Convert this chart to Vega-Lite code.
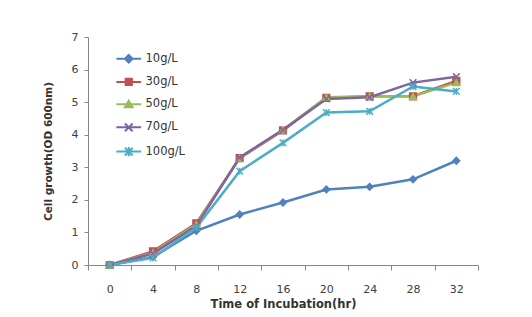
{
  "$schema": "https://vega.github.io/schema/vega-lite/v6.json",
  "autosize": {"type": "none"},
  "width": 390,
  "height": 228,
  "padding": {"left": 88, "top": 37, "right": 54, "bottom": 52},
  "background": "white",
  "config": {"view": {"stroke": null}, "font": "DejaVu Sans",
    "legend": {"orient": "none", "legendX": 35, "legendY": 16, "title": null, "labelFontSize": 11.5, "labelColor": "#333333", "rowPadding": 7.2, "symbolSize": 60, "symbolStrokeWidth": 2, "labelOffset": 11}},
  "data": {"values": [
    {"t": 0, "s": "10g/L", "v": 0}, {"t": 4, "s": "10g/L", "v": 0.25}, {"t": 8, "s": "10g/L", "v": 1.05}, {"t": 12, "s": "10g/L", "v": 1.55}, {"t": 16, "s": "10g/L", "v": 1.92}, {"t": 20, "s": "10g/L", "v": 2.32}, {"t": 24, "s": "10g/L", "v": 2.4}, {"t": 28, "s": "10g/L", "v": 2.63}, {"t": 32, "s": "10g/L", "v": 3.2},
    {"t": 0, "s": "30g/L", "v": 0}, {"t": 4, "s": "30g/L", "v": 0.42}, {"t": 8, "s": "30g/L", "v": 1.28}, {"t": 12, "s": "30g/L", "v": 3.28}, {"t": 16, "s": "30g/L", "v": 4.13}, {"t": 20, "s": "30g/L", "v": 5.13}, {"t": 24, "s": "30g/L", "v": 5.18}, {"t": 28, "s": "30g/L", "v": 5.18}, {"t": 32, "s": "30g/L", "v": 5.65},
    {"t": 0, "s": "50g/L", "v": 0}, {"t": 4, "s": "50g/L", "v": 0.38}, {"t": 8, "s": "50g/L", "v": 1.25}, {"t": 12, "s": "50g/L", "v": 3.28}, {"t": 16, "s": "50g/L", "v": 4.15}, {"t": 20, "s": "50g/L", "v": 5.15}, {"t": 24, "s": "50g/L", "v": 5.18}, {"t": 28, "s": "50g/L", "v": 5.18}, {"t": 32, "s": "50g/L", "v": 5.6},
    {"t": 0, "s": "70g/L", "v": 0}, {"t": 4, "s": "70g/L", "v": 0.35}, {"t": 8, "s": "70g/L", "v": 1.2}, {"t": 12, "s": "70g/L", "v": 3.3}, {"t": 16, "s": "70g/L", "v": 4.15}, {"t": 20, "s": "70g/L", "v": 5.1}, {"t": 24, "s": "70g/L", "v": 5.15}, {"t": 28, "s": "70g/L", "v": 5.6}, {"t": 32, "s": "70g/L", "v": 5.78},
    {"t": 0, "s": "100g/L", "v": 0}, {"t": 4, "s": "100g/L", "v": 0.22}, {"t": 8, "s": "100g/L", "v": 1.15}, {"t": 12, "s": "100g/L", "v": 2.88}, {"t": 16, "s": "100g/L", "v": 3.75}, {"t": 20, "s": "100g/L", "v": 4.68}, {"t": 24, "s": "100g/L", "v": 4.72}, {"t": 28, "s": "100g/L", "v": 5.48}, {"t": 32, "s": "100g/L", "v": 5.33}
  ]},
  "encoding": {
    "x": {"field": "t", "type": "ordinal", "sort": [0,4,8,12,16,20,24,28,32],
      "scale": {"type": "band", "paddingInner": 0, "paddingOuter": 0},
      "axis": {"title": "Time of Incubation(hr)", "labelAngle": 0, "tickBand": "extent", "tickSize": 5, "tickColor": "#868686", "domainColor": "#868686", "labelPadding": 13, "labelFontSize": 11, "labelColor": "#404040", "titleFontSize": 11.5, "titleFontWeight": "bold", "titleColor": "#333333", "titlePadding": 4}},
    "y": {"field": "v", "type": "quantitative",
      "scale": {"domain": [0, 7]},
      "axis": {"title": "Cell growth(OD 600nm)", "values": [0,1,2,3,4,5,6,7], "grid": false, "tickSize": 4, "tickColor": "#868686", "domainColor": "#868686", "labelPadding": 6, "labelFontSize": 11, "labelColor": "#404040", "titleFontSize": 10.5, "titleFontWeight": "bold", "titleColor": "#333333", "titlePadding": 18}}
  },
  "resolve": {"legend": {"stroke": "independent", "shape": "independent", "fill": "independent"}},
  "layer": [
    {"mark": {"type": "line", "strokeWidth": 2.5},
     "encoding": {
       "stroke": {"field": "s", "type": "nominal", "sort": ["10g/L","30g/L","50g/L","70g/L","100g/L"],
         "scale": {"domain": ["10g/L","30g/L","50g/L","70g/L","100g/L"], "range": ["#4F81BD","#C0504D","#9BBB59","#8064A2","#4BACC6"]},
         "legend": {"encode": {"symbols": {"update": {
           "shape": {"signal": "datum.value == '10g/L' ? 'M-3.2,0L3.2,0M0,-1L1,0L0,1L-1,0Z' : datum.value == '30g/L' ? 'M-3.2,0L3.2,0M-0.8,-0.8L0.8,-0.8L0.8,0.8L-0.8,0.8Z' : datum.value == '50g/L' ? 'M-3.2,0L3.2,0M0,-0.9L1,0.8L-1,0.8Z' : datum.value == '70g/L' ? 'M-3.2,0L3.2,0M-1,-1L1,1M-1,1L1,-1' : 'M-3.2,0L3.2,0M-1,-1L1,1M-1,1L1,-1M0,-1.2L0,1.2'"},
           "fill": {"signal": "datum.value == '10g/L' ? '#4F81BD' : datum.value == '30g/L' ? '#C0504D' : datum.value == '50g/L' ? '#9BBB59' : 'transparent'"}}}}}}
     }},
    {"mark": {"type": "point", "strokeWidth": 1.5, "size": 45, "opacity": 1},
     "encoding": {
       "stroke": {"field": "s", "type": "nominal", "sort": ["10g/L","30g/L","50g/L","70g/L","100g/L"],
         "scale": {"domain": ["10g/L","30g/L","50g/L","70g/L","100g/L"], "range": ["#4F81BD","#C0504D","#9BBB59","#8064A2","#4BACC6"]}, "legend": null},
       "shape": {"field": "s", "type": "nominal", "sort": ["10g/L","30g/L","50g/L","70g/L","100g/L"],
         "scale": {"domain": ["10g/L","30g/L","50g/L","70g/L","100g/L"], "range": ["diamond","square","triangle-up","M-1,-1L1,1M-1,1L1,-1","M-1,-1L1,1M-1,1L1,-1M0,-1L0,1"]}, "legend": null},
       "fill": {"field": "s", "type": "nominal", "sort": ["10g/L","30g/L","50g/L","70g/L","100g/L"], "scale": {"domain": ["10g/L","30g/L","50g/L","70g/L","100g/L"], "range": ["#4F81BD","#C0504D","#9BBB59","transparent","transparent"]}, "legend": null}
     }}
  ]
}
